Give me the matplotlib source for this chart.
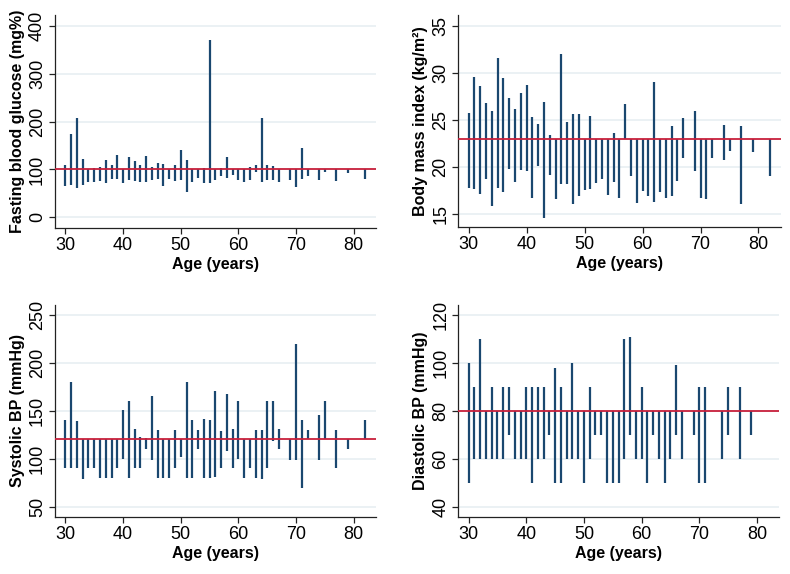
import matplotlib
matplotlib.use("Agg")
import matplotlib.pyplot as plt

plt.rcParams['font.family'] = ['Liberation Sans', 'DejaVu Sans']

SPIKE = "#1a476f"
REF = "#c8203c"
GRID = "#e8eff2"

# ages with observations (same for first three panels)
ages = [30, 31, 32, 33, 34, 35, 36, 37, 38, 39, 40, 41, 42, 43, 44, 45, 46, 47, 48,
        49, 50, 51, 52, 53, 54, 55, 56, 57, 58, 59, 60, 61, 62, 63, 64, 65, 66, 67,
        69, 70, 71, 72, 74, 75, 77, 79, 82]
ages_dbp = [30, 31, 32, 33, 34, 35, 36, 37, 38, 39, 40, 41, 42, 43, 44, 45, 46, 47, 48,
            49, 50, 51, 52, 53, 54, 55, 56, 57, 58, 59, 60, 61, 62, 63, 64, 65, 66, 67,
            69, 70, 71, 74, 75, 77, 79]

fbg_hi = [110, 175, 207, 122, 100, 104, 106, 120, 110, 131, 100, 127, 117, 109, 129, 106,
          113, 111, 100, 110, 140, 120, 100, 100, 104, 371, 100, 104, 127, 100, 100, 100,
          105, 110, 207, 110, 108, 100,
          100, 100, 144, 100, 100, 100, 100, 100, 100]
fbg_lo = [66, 68, 61, 68, 73, 73, 77, 72, 81, 81, 71, 79, 75, 73, 74, 79, 80, 66, 80, 77,
          79, 53, 74, 83, 72, 72, 78, 86, 83, 89, 79, 73, 79, 94, 74, 79, 79, 73,
          79, 63, 80, 86, 78, 95, 77, 92, 81]

bmi_hi = [25.8, 29.6, 28.6, 26.8, 26.0, 31.6, 29.5, 27.4, 26.2, 27.9, 28.8, 25.4, 24.6,
          26.9, 23.4, 23, 32.1, 24.8, 25.7, 25.7, 23, 25.5, 23, 23, 23, 23.7, 23, 26.7,
          23, 23, 23, 23, 29.1, 23, 23, 24.4, 23, 25.3,
          26.0, 23, 23, 23, 24.5, 23, 24.4, 23, 23]
bmi_lo = [17.8, 17.7, 17.2, 18.75, 15.9, 17.8, 17.4, 19.8, 18.5, 19.7, 19.6, 16.8, 20.1,
          14.6, 19.2, 16.6, 18.2, 18.2, 16.1, 17.0, 17.6, 17.7, 18.3, 18.8, 17.1, 18.4,
          16.7, 23, 19.1, 16.2, 17.5, 17.0, 16.3, 17.4, 16.7, 17.0, 18.6, 21.0,
          19.6, 16.8, 16.6, 21.0, 20.8, 21.7, 16.1, 21.6, 19.1]

sbp_hi = [140, 180, 139, 120, 120, 120, 120, 120, 120, 120, 151, 160, 131, 122, 121, 165,
          130, 120, 120, 130, 120, 180, 140, 130, 141, 140, 170, 129, 167, 131, 160, 120,
          120, 130, 130, 160, 160, 131,
          120, 220, 140, 130, 145, 160, 130, 120, 140]
sbp_lo = [90, 90, 90, 79, 90, 90, 80, 80, 80, 90, 100, 80, 90, 90, 110, 99, 80, 80, 80,
          90, 102, 80, 80, 110, 80, 80, 81, 90, 108, 90, 100, 80, 90, 80, 79, 90, 118, 110,
          99, 99, 69, 120, 99, 120, 90, 110, 120]

dbp_hi = [100, 90, 110, 80, 90, 80, 90, 90, 80, 80, 90, 90, 90, 90, 80, 98, 90, 80, 100,
          80, 80, 90, 80, 80, 80, 80, 80, 110, 111, 80, 90, 80, 80, 80, 80, 80, 99, 80,
          80, 90, 90, 80, 90, 90, 80]
dbp_lo = [50, 60, 60, 60, 60, 60, 60, 70, 60, 60, 60, 50, 60, 60, 70, 50, 50, 60, 60, 60,
          50, 60, 70, 70, 50, 50, 50, 60, 70, 60, 60, 50, 70, 60, 50, 60, 70, 60,
          70, 50, 50, 60, 70, 60, 70]

panels = [
    # x, lo, hi, ref, yticks, ylim, ylabel, axes rect
    (ages, fbg_lo, fbg_hi, 100, [0, 100, 200, 300, 400], (-22, 423),
     "Fasting blood glucose (mg%)", [0.0696, 0.603, 0.406, 0.371]),
    (ages, bmi_lo, bmi_hi, 23, [15, 20, 25, 30, 35], (13.7, 36.2),
     "Body mass index (kg/m\u00b2)", [0.580, 0.605, 0.408, 0.369]),
    (ages, sbp_lo, sbp_hi, 120, [50, 100, 150, 200, 250], (38.9, 260.4),
     "Systolic BP (mmHg)", [0.0696, 0.0990, 0.406, 0.370]),
    (ages_dbp, dbp_lo, dbp_hi, 80, [40, 60, 80, 100, 120], (35.8, 124.2),
     "Diastolic BP (mmHg)", [0.580, 0.0998, 0.406, 0.369]),
]

fig = plt.figure(figsize=(7.9, 5.74), dpi=100)

for x, lo, hi, ref, yt, yl, lab, rect in panels:
    ax = fig.add_axes(rect)
    ax.set_yticks(yt)
    ax.set_ylim(yl)
    ax.set_xticks([30, 40, 50, 60, 70, 80])
    ax.set_xlim(28.2, 83.8)
    ax.grid(axis='y', color=GRID, linewidth=1.2)
    ax.set_axisbelow(True)

    ax.vlines(x, lo, hi, color=SPIKE, linewidth=1.6, zorder=2)
    ax.axhline(ref, color=REF, linewidth=1.3, zorder=3)

    for s in ['top', 'right']:
        ax.spines[s].set_visible(False)
    for s in ['left', 'bottom']:
        ax.spines[s].set_color('#222222')
        ax.spines[s].set_linewidth(0.9)

    ax.tick_params(axis='both', direction='out', length=4, width=0.9,
                   color='#222222', labelsize=13, pad=2.5)
    ax.tick_params(axis='y', labelrotation=90)
    for t in ax.get_yticklabels():
        t.set_va('center')

    ax.set_xlabel("Age (years)", fontsize=11.5, fontweight='bold', labelpad=2)
    ax.set_ylabel(lab, fontsize=11.5, fontweight='bold', labelpad=3)

fig.savefig("out.png", dpi=100, facecolor='white')
